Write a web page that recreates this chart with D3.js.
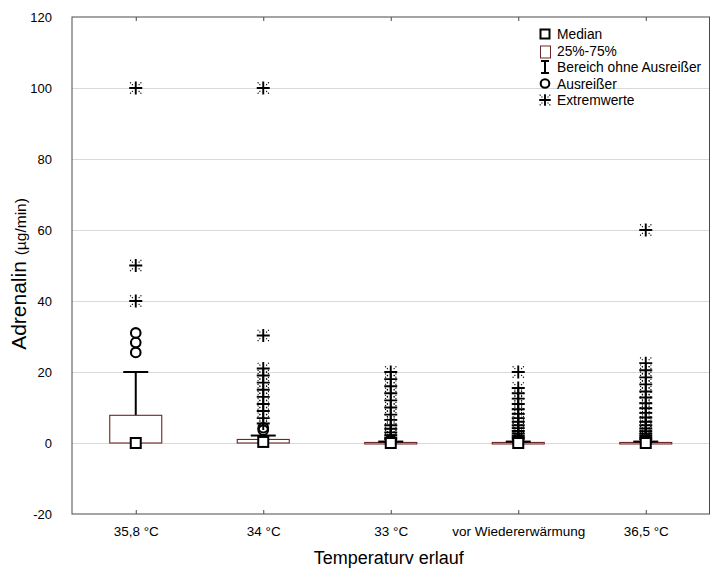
<!DOCTYPE html>
<html>
<head>
<meta charset="utf-8">
<script src="https://cdn.jsdelivr.net/npm/d3@7/dist/d3.min.js"></script>
<style>
  html, body { margin: 0; padding: 0; background: #fff; }
  svg { display: block; font-family: "Liberation Sans", Arial, sans-serif; }
</style>
</head>
<body>
<svg id="chart" width="710" height="568"></svg>
<script>
// Phases of the temperature course
const categories = ["35,8 °C", "34 °C", "33 °C", "vor Wiedererwärmung", "36,5 °C"];

// Box statistics per phase (µg/min)
const medians   = [0, 0.3, 0, 0, 0];
const q1        = [0, 0, 0, 0, 0];
const q3        = [7.8, 1.0, 0.15, 0.15, 0.15];
const whiskLow  = [0, 0, 0, 0, 0];
const whiskHigh = [20, 2.1, 0.4, 0.4, 0.4];

// Outliers (circles) per phase
const outliers = [
  [31, 28.3, 25.5],
  [3.6, 4.3],
  [0.6, 0.9],
  [0.6, 0.9],
  [0.6, 0.9]
];

// Extreme values (stars) per phase
const extremes = [
  [100, 50, 40],
  [100, 30.3, 21, 19, 17, 15, 13, 11, 9, 7, 5.5],
  [20, 18, 16, 14, 12, 10, 8, 6.5, 5, 4, 3, 2.2, 1.5, 1.1],
  [20, 15.5, 14, 12.5, 11, 9.5, 8.2, 7, 6, 5, 4.2, 3.4, 2.7, 2.1, 1.6, 1.2],
  [60, 22.5, 20.5, 18.5, 16.5, 14.5, 12.8, 11.2, 9.8, 8.5, 7.2, 6, 5, 4.1, 3.3, 2.6, 2, 1.5, 1.1]
];

const yTicks = [-20, 0, 20, 40, 60, 80, 100, 120];
const gridTicks = [0, 20, 40, 60, 80, 100];

const legendItems = ["Median", "25%-75%", "Bereich ohne Ausreißer", "Ausreißer", "Extremwerte"];

const svg = d3.select("#chart");
const margin = { left: 72, right: 0.5, top: 17, bottom: 54 };
const W = 710, H = 568;
const x0 = margin.left, x1 = W - margin.right;
const y0 = margin.top, y1 = H - margin.bottom;

const x = d3.scaleLinear().domain([0.5, categories.length + 0.5]).range([x0, x1]);
const y = d3.scaleLinear().domain([-20, 120]).range([y1, y0]);

const boxColor = "#6e2626";
const frameColor = "#4a4a4a";
const boxHalf = 26, capHalf = 12.5;
const font = "'Liberation Sans', Arial, sans-serif";

// horizontal grid
svg.append("g")
  .attr("transform", `translate(${x0},0)`)
  .call(d3.axisLeft(y).tickValues(gridTicks).tickSize(-(x1 - x0)).tickFormat(""))
  .call(g => g.select(".domain").remove())
  .call(g => g.selectAll("line").attr("stroke", "#d9d9d9").attr("stroke-width", 1));

// frame
svg.append("rect")
  .attr("x", x0).attr("y", y0).attr("width", x1 - x0).attr("height", y1 - y0)
  .attr("fill", "none").attr("stroke", frameColor).attr("stroke-width", 1);

// left axis (plain hyphen for negatives)
const yAxis = svg.append("g")
  .attr("transform", `translate(${x0},0)`)
  .call(d3.axisLeft(y).tickValues(yTicks).tickSize(0).tickPadding(20).tickFormat(d => String(d)));
yAxis.select(".domain").remove();
yAxis.selectAll("text").attr("font-size", 13).attr("fill", "#000").attr("font-family", font);

// bottom axis (ticks inside)
const idx = categories.map((c, i) => i + 1);
const xAxis = svg.append("g")
  .attr("transform", `translate(0,${y1})`)
  .call(d3.axisBottom(x).tickValues(idx).tickSize(-4).tickPadding(12).tickFormat(i => categories[i - 1]));
xAxis.select(".domain").remove();
xAxis.selectAll("line").attr("stroke", frameColor);
xAxis.selectAll("text").attr("font-size", 13.5).attr("fill", "#000").attr("font-family", font);

// top axis ticks
const xTop = svg.append("g")
  .attr("transform", `translate(0,${y0})`)
  .call(d3.axisTop(x).tickValues(idx).tickSize(-4).tickFormat(""));
xTop.select(".domain").remove();
xTop.selectAll("line").attr("stroke", frameColor);

// axis titles
svg.append("text")
  .attr("x", (x0 + x1) / 2 - 2).attr("y", 564)
  .attr("text-anchor", "middle").attr("font-size", 18).attr("fill", "#000")
  .text("Temperaturv erlauf");

const yl = svg.append("text")
  .attr("transform", "translate(26,274) rotate(-90)")
  .attr("text-anchor", "middle").attr("fill", "#000");
yl.append("tspan").attr("font-size", 21).text("Adrenalin ");
yl.append("tspan").attr("font-size", 15.5).text("(µg/min)");

// marker drawers
function star(g, cx, cy, s = 6.5) {
  const m = g.append("g").attr("transform", `translate(${cx},${cy})`);
  const a = s * 0.45;
  // dotted diagonal ends
  const d = [];
  [[1, 1], [1, -1], [-1, 1], [-1, -1]].forEach(([sx, sy]) => {
    d.push(`M${sx * a},${sy * a}L${sx * s},${sy * s}`);
  });
  m.append("path").attr("d", d.join(""))
    .attr("stroke", "#000").attr("stroke-width", 1.1).attr("fill", "none")
    .attr("stroke-dasharray", "1.2,1.4");
  m.append("path").attr("d", `M${-s},0H${s}M0,${-s}V${s}`)
    .attr("stroke", "#000").attr("stroke-width", 1.9).attr("fill", "none");
}
function circle(g, cx, cy, r = 4.8) {
  g.append("circle").attr("cx", cx).attr("cy", cy).attr("r", r)
    .attr("fill", "none").attr("stroke", "#000").attr("stroke-width", 2.1);
}
function medSquare(g, cx, cy, s = 10) {
  g.append("rect").attr("x", cx - s / 2).attr("y", cy - s / 2).attr("width", s).attr("height", s)
    .attr("fill", "#fff").attr("stroke", "#000").attr("stroke-width", 2);
}

const plot = svg.append("g");

categories.forEach((c, i) => {
  const cx = x(i + 1);
  // whisker stems
  plot.append("line").attr("x1", cx).attr("x2", cx)
    .attr("y1", y(q3[i])).attr("y2", y(whiskHigh[i]))
    .attr("stroke", "#000").attr("stroke-width", 2);
  plot.append("line").attr("x1", cx).attr("x2", cx)
    .attr("y1", y(q1[i])).attr("y2", y(whiskLow[i]))
    .attr("stroke", "#000").attr("stroke-width", 2);
  // box
  plot.append("rect")
    .attr("x", cx - boxHalf).attr("width", boxHalf * 2)
    .attr("y", y(q3[i])).attr("height", Math.max(1.5, y(q1[i]) - y(q3[i])))
    .attr("fill", "#fff").attr("stroke", boxColor).attr("stroke-width", 1.1);
  // whisker cap
  plot.append("line").attr("x1", cx - capHalf).attr("x2", cx + capHalf)
    .attr("y1", y(whiskHigh[i])).attr("y2", y(whiskHigh[i]))
    .attr("stroke", "#000").attr("stroke-width", 2);
  extremes[i].forEach(v => star(plot, cx, y(v)));
  outliers[i].forEach(v => circle(plot, cx, y(v)));
  medSquare(plot, cx, y(medians[i]));
});

// legend
const lg = svg.append("g");
const lx = 545, ltx = 557;
const rows = [34, 50.5, 67, 83.5, 100];
legendItems.forEach((t, i) => {
  lg.append("text").attr("x", ltx).attr("y", rows[i] + 5)
    .attr("font-size", 13.8).attr("fill", "#000").text(t);
});
medSquare(lg, lx, rows[0], 9);
lg.append("rect").attr("x", lx - 4.5).attr("y", rows[1] - 4.5).attr("width", 10).attr("height", 12)
  .attr("fill", "#fff").attr("stroke", boxColor).attr("stroke-width", 1);
lg.append("path").attr("d", `M${lx - 4},${rows[2] - 6}H${lx + 4}M${lx},${rows[2] - 6}V${rows[2] + 6}M${lx - 4},${rows[2] + 6}H${lx + 4}`)
  .attr("stroke", "#000").attr("stroke-width", 2).attr("fill", "none");
circle(lg, lx, rows[3], 4.3);
star(lg, lx, rows[4], 5.8);
</script>
</body>
</html>
